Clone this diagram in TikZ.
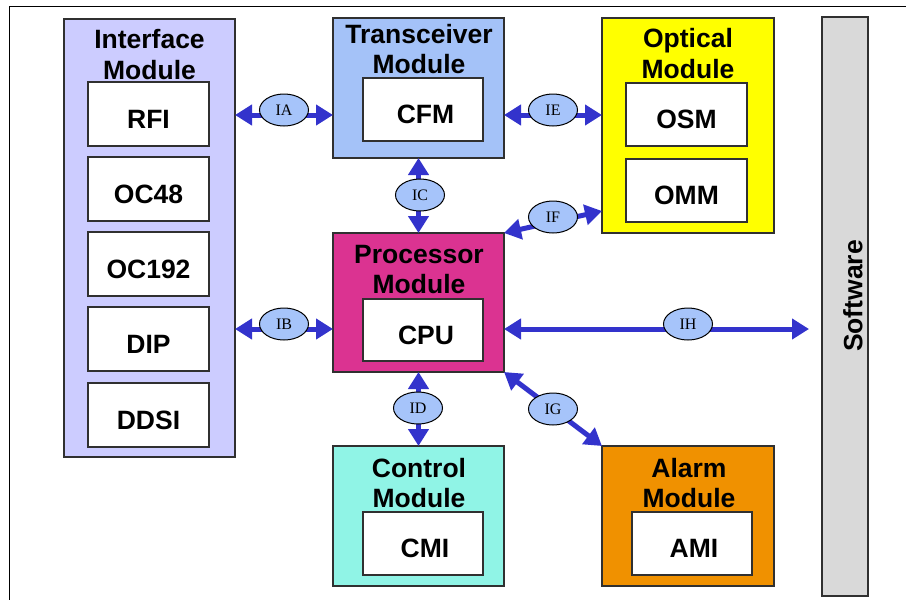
\documentclass[tikz,border=0pt]{standalone}
\usepackage{fontspec}
\setmainfont{Liberation Sans}
\newfontfamily\tagface{Liberation Serif}
\usetikzlibrary{arrows.meta,shapes.geometric}

\definecolor{ifcol}{HTML}{CCCCFF}
\definecolor{trcol}{HTML}{A4C2F8}
\definecolor{opcol}{HTML}{FFFF00}
\definecolor{prcol}{HTML}{DB3391}
\definecolor{ctcol}{HTML}{90F4E6}
\definecolor{alcol}{HTML}{F09100}
\definecolor{swcol}{HTML}{D9D9D9}
\definecolor{lnk}{HTML}{3333CC}
\definecolor{tagcol}{HTML}{A6C4FA}
\definecolor{edge}{HTML}{303030}

\begin{document}
\begin{tikzpicture}[x=1pt,y=-1pt,
  module/.style={draw=edge, line width=1.3pt, inner sep=0pt, outer sep=0pt},
  unit/.style={module, fill=white, font=\fontsize{26.5}{30}\selectfont\bfseries,
    text height=28pt, text depth=0pt},
  ttl/.style={anchor=base, inner sep=0pt, font=\fontsize{26.5}{30}\selectfont\bfseries},
  tag/.style={ellipse, draw=black, line width=1pt, fill=tagcol, inner sep=0pt,
    minimum width=49pt, minimum height=32pt, font=\tagface\fontsize{16}{18}\selectfont},
  link/.style={draw=lnk, line width=5pt,
    {Triangle[length=17pt,width=20pt]}-{Triangle[length=17pt,width=20pt]}}]

\useasboundingbox (0,0) rectangle (906,600);
\draw[line width=1pt] (9,600) -- (9,6) -- (906,6);

% module frames
\node[module, fill=ifcol, minimum width=171pt, minimum height=438pt] (ifm) at (149.5,238) {};
\node[module, fill=trcol, minimum width=171pt, minimum height=140pt] (trm) at (418.5,88) {};
\node[module, fill=opcol, minimum width=172pt, minimum height=215pt] (opm) at (688,125.5) {};
\node[module, fill=prcol, minimum width=171pt, minimum height=139pt] (prm) at (418.5,302.5) {};
\node[module, fill=ctcol, minimum width=171pt, minimum height=140pt] (ctm) at (418.5,516) {};
\node[module, fill=alcol, minimum width=172pt, minimum height=140pt] (alm) at (688,516) {};
\node[module, fill=swcol, minimum width=46pt, minimum height=579pt] (sw) at (845,306.5) {};
\node[ttl, anchor=center, rotate=90] (swt) at (853,296) {Software};

% module titles
\node[ttl] (ifmA) at (149.5,48) {Interface};
\node[ttl] (ifmB) at (149.5,79) {Module};
\node[ttl] (trmA) at (419,43) {Transceiver};
\node[ttl] (trmB) at (419,73) {Module};
\node[ttl] (opmA) at (688,47) {Optical};
\node[ttl] (opmB) at (688,78) {Module};
\node[ttl] (prmA) at (419,263) {Processor};
\node[ttl] (prmB) at (419,293) {Module};
\node[ttl] (ctmA) at (419,477) {Control};
\node[ttl] (ctmB) at (419,507) {Module};
\node[ttl] (almA) at (689,477) {Alarm};
\node[ttl] (almB) at (689,507) {Module};

% units inside the modules
\node[unit, minimum width=121pt, minimum height=64pt] (rfi)   at (148.5,114) {RFI};
\node[unit, minimum width=121pt, minimum height=64pt] (oc48)  at (148.5,189) {OC48};
\node[unit, minimum width=121pt, minimum height=64pt] (oc192) at (148.5,264) {OC192};
\node[unit, minimum width=121pt, minimum height=64pt] (dip)   at (148.5,339) {DIP};
\node[unit, minimum width=121pt, minimum height=64pt] (ddsi)  at (148.5,415) {DDSI};
\node[unit, minimum width=120pt, minimum height=63pt] (cfm)   at (423,109.5) {\kern5pt CFM};
\node[unit, minimum width=121pt, minimum height=63pt] (osm)   at (686.5,114.5) {OSM};
\node[unit, minimum width=121pt, minimum height=63pt] (omm)   at (686.5,190.5) {OMM};
\node[unit, minimum width=120pt, minimum height=62pt] (cpu)   at (423,330) {\kern6pt CPU};
\node[unit, minimum width=120pt, minimum height=63pt] (cmi)   at (423,543.5) {\kern4pt CMI};
\node[unit, minimum width=120pt, minimum height=63pt] (ami)   at (692,543.5) {\kern4pt AMI};

% interface connectors
\coordinate (rowA) at (0,115);
\coordinate (rowB) at (0,329);
\coordinate (rowF) at (0,211);
\coordinate (swin) at ([xshift=-13pt]sw.west |- rowB);

\draw[link] (ifm.east |- rowA) -- (trm.west |- rowA);
\draw[link] (trm.east |- rowA) -- (opm.west |- rowA);
\draw[link] (ifm.east |- rowB) -- (prm.west |- rowB);
\draw[link] (trm.south) -- (prm.north);
\draw[link] (prm.south) -- (ctm.north);
\draw[link] (prm.north east) -- (opm.west |- rowF);
\draw[link] (prm.south east) -- (alm.north west);
\draw[link] (prm.east |- rowB) -- (swin);

% interface tags
\node[tag] (ia) at (284,110) {IA};
\node[tag] (ib) at (284,324) {IB};
\node[tag] (ic) at (420,195) {IC};
\node[tag] (id) at (418,408) {ID};
\node[tag] (ie) at (553,110) {IE};
\node[tag] (if) at (553,217) {IF};
\node[tag] (ig) at (553,409) {IG};
\node[tag] (ih) at (688,324) {IH};
\end{tikzpicture}
\end{document}
